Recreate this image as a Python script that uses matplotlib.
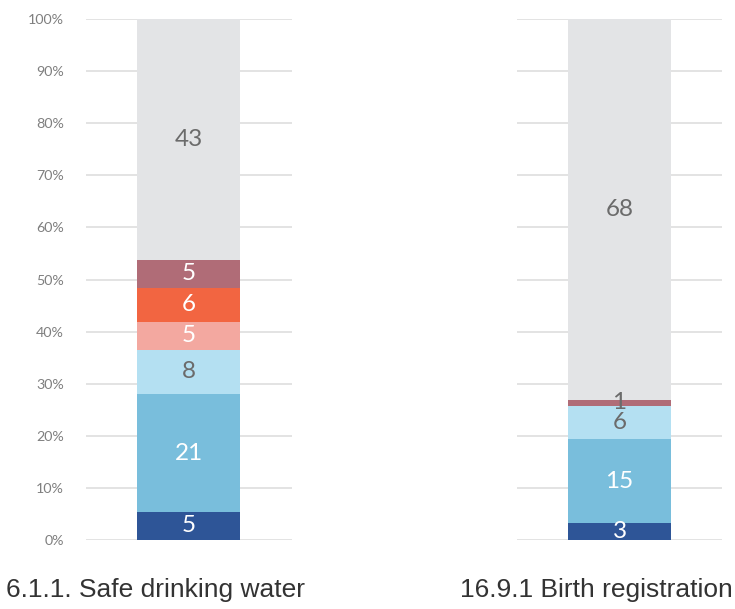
import matplotlib.pyplot as plt
import numpy as np

# ── data ──────────────────────────────────────────────────────────────────────

INDICATORS = ["6.1.1. Safe drinking water", "16.9.1 Birth registration"]
# stack order, bottom to top (counts per band)
WATER = [5, 21, 8, 5, 6, 5, 43]
BIRTH = [3, 15, 6, 0, 0, 1, 68]
YTICKS = [0, 10, 20, 30, 40, 50, 60, 70, 80, 90, 100]

COLORS = ["#2E5597", "#79BEDC", "#B4E0F2", "#F3A8A0", "#F26541", "#B06C77", "#E3E4E6"]
# label colour per band, per bar (the thin "1" band on the right reads grey)
TEXT_WATER = ["white", "white", "#6B6B6B", "white", "white", "white", "#6B6B6B"]
TEXT_BIRTH = ["white", "white", "#6B6B6B", "white", "white", "#6B6B6B", "#6B6B6B"]

# ── plot ──────────────────────────────────────────────────────────────────────

fig = plt.figure(figsize=(7.35, 6.09), dpi=100)
axes = [fig.add_axes([0.117, 0.1133, 0.280, 0.8555]),
        fig.add_axes([0.7034, 0.1133, 0.279, 0.8555])]
label_x = [0.212, 0.812]


def draw(ax, counts, text_colors, show_ticks):
    counts = np.array(counts, dtype=float)
    pct = counts / counts.sum() * 100
    bottoms = np.concatenate([[0], np.cumsum(pct)[:-1]])
    for i, (p, b) in enumerate(zip(pct, bottoms)):
        if p == 0:
            continue
        ax.bar(0, p, bottom=b, width=0.5, color=COLORS[i], zorder=2)
        ax.text(0, b + p / 2, f"{int(counts[i])}", ha="center", va="center",
                fontsize=17.5, color=text_colors[i], family="Lato", zorder=3)
    ax.set_xlim(-0.5, 0.5)
    ax.set_ylim(0, 100)
    ax.set_yticks(YTICKS)
    ax.grid(axis="y", color="#DEDEDE", lw=1.2, zorder=0)
    ax.set_xticks([])
    for s in ax.spines.values():
        s.set_visible(False)
    ax.tick_params(axis="y", length=0, pad=16, labelsize=10.3, labelcolor="#7F7F7F")
    if show_ticks:
        ax.set_yticklabels([f"{t}%" for t in YTICKS], family="Lato")
    else:
        ax.set_yticklabels([])


draw(axes[0], WATER, TEXT_WATER, True)
draw(axes[1], BIRTH, TEXT_BIRTH, False)

for x, name in zip(label_x, INDICATORS):
    fig.text(x, 0.031, name, ha="center", va="center", fontsize=19,
             family="Liberation Sans", color="#333333")

fig.savefig("out.png", dpi=100)
